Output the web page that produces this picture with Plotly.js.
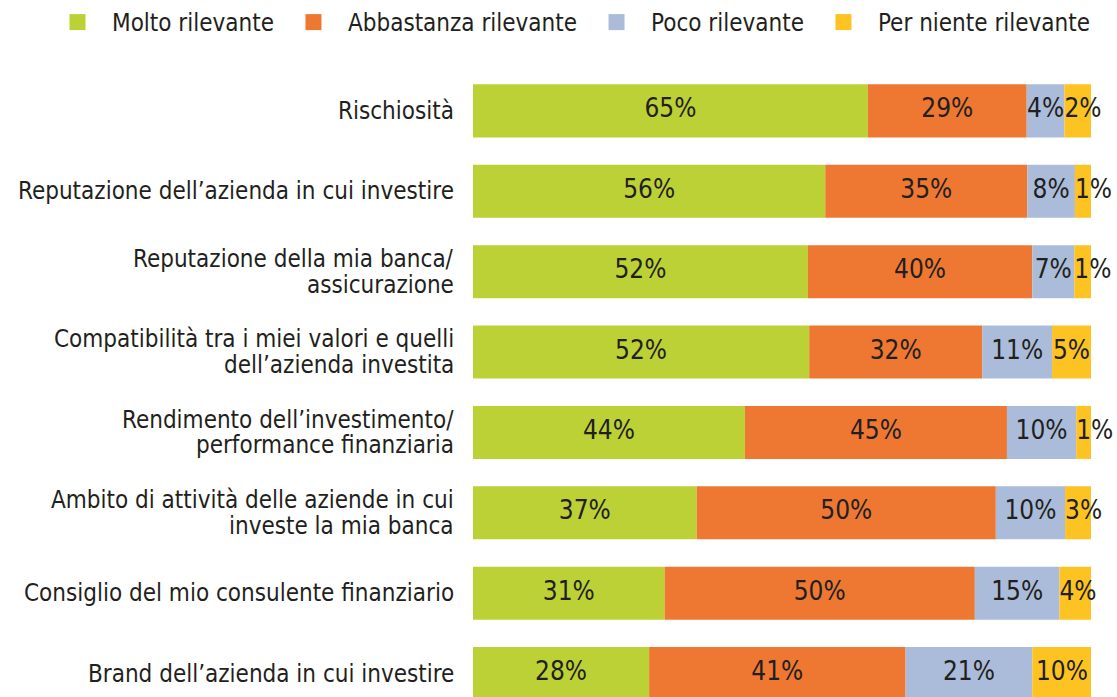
<!DOCTYPE html>
<html><head><meta charset="utf-8">
<script src="https://cdn.plot.ly/plotly-3.0.1.min.js"></script>
<style>html,body{margin:0;padding:0;background:#fff}#chart{width:1117px;height:697px}</style>
</head><body><div id="chart"></div>
<script>
// Categories (line breaks marked with <br>)
const categories = [
  "Rischiosità",
  "Reputazione dell’azienda in cui investire",
  "Reputazione della mia banca/<br>assicurazione",
  "Compatibilità tra i miei valori e quelli<br>dell’azienda investita",
  "Rendimento dell’investimento/<br>performance finanziaria",
  "Ambito di attività delle aziende in cui<br>investe la mia banca",
  "Consiglio del mio consulente finanziario",
  "Brand dell’azienda in cui investire"
];
const seriesNames = ["Molto rilevante", "Abbastanza rilevante", "Poco rilevante", "Per niente rilevante"];
const seriesColors = ["#bcd135", "#ee7831", "#aabcda", "#fdc323"];

// Printed percentages (labels)
const moltoPct      = [65, 56, 52, 52, 44, 37, 31, 28];
const abbastanzaPct = [29, 35, 40, 32, 45, 50, 50, 41];
const pocoPct       = [4, 8, 7, 11, 10, 10, 15, 21];
const nientePct     = [2, 1, 1, 5, 1, 3, 4, 10];

// Bar lengths as drawn in the picture (percent of full bar)
const moltoBar      = [63.9, 57.0, 54.2, 54.4, 44.0, 36.2, 31.0, 28.5];
const abbastanzaBar = [25.7, 32.7, 36.3, 28.0, 42.4, 48.4, 50.2, 41.5];
const pocoBar       = [6.1, 7.7, 6.8, 11.3, 11.2, 11.2, 13.7, 20.5];
const nienteBar     = [4.3, 2.7, 2.7, 6.3, 2.4, 4.2, 5.2, 9.6];

const pctSeries = [moltoPct, abbastanzaPct, pocoPct, nientePct];
const barSeries = [moltoBar, abbastanzaBar, pocoBar, nienteBar];

const FONT = "'DejaVu Sans Condensed', 'Liberation Sans Narrow', sans-serif";
const TXT = "#231f20";

const traces = [];
const cum = categories.map(() => 0);
barSeries.forEach((vals, s) => {
  traces.push({
    type: "bar", orientation: "h",
    x: vals, y: categories, base: cum.slice(),
    marker: {color: seriesColors[s], line: {width: 0}},
    showlegend: false, hoverinfo: "skip"
  });
  const narrow = vals.map(v => v < 6);
  traces.push({
    type: "scatter", mode: "text",
    x: vals.map((v, i) => narrow[i] ? cum[i] : cum[i] + v / 2),
    y: categories,
    text: pctSeries[s].map(p => p + "%"),
    textposition: narrow.map(n => n ? "middle right" : "middle center"),
    textfont: {family: FONT, size: 26, color: TXT},
    cliponaxis: false, showlegend: false, hoverinfo: "skip"
  });
  vals.forEach((v, i) => { cum[i] += v; });
});
// legend entries
seriesNames.forEach((name, s) => {
  traces.push({
    type: "scatter", mode: "markers", x: [null], y: [null], name: name,
    marker: {symbol: "square", size: 16, color: seriesColors[s]},
    hoverinfo: "skip"
  });
});

const annotations = [];
categories.forEach(cat => {
  const lines = cat.split("<br>");
  const spacing = 25.7;
  lines.forEach((ln, k) => {
    annotations.push({
      xref: "paper", x: 0, xanchor: "right", xshift: -17,
      yref: "y", y: cat, yanchor: "middle",
      yshift: ((lines.length - 1) / 2 - k) * spacing,
      text: ln, showarrow: false,
      font: {family: FONT, size: 24, color: TXT}
    });
  });
});

const layout = {
  width: 1117, height: 697,
  margin: {l: 473, r: 26, t: 55, b: 0, pad: 0},
  paper_bgcolor: "#fff", plot_bgcolor: "#fff",
  barmode: "overlay", bargap: 0.34,
  font: {family: FONT, size: 24, color: TXT},
  xaxis: {range: [0, 100], visible: false, fixedrange: true},
  yaxis: {type: "category", categoryorder: "array", categoryarray: categories,
          range: [7.292, -0.683], showticklabels: false, showgrid: false,
          zeroline: false, showline: false, ticks: "", fixedrange: true},
  showlegend: true,
  legend: {orientation: "h", xref: "paper", yref: "paper",
           x: (43 - 473) / 618, xanchor: "left", y: 1.017, yanchor: "bottom",
           itemwidth: 59, font: {family: FONT, size: 24, color: TXT},
           bgcolor: "rgba(0,0,0,0)", traceorder: "normal"},
  annotations: annotations
};
Plotly.newPlot("chart", traces, layout, {displayModeBar: false, staticPlot: true});
</script></body></html>
